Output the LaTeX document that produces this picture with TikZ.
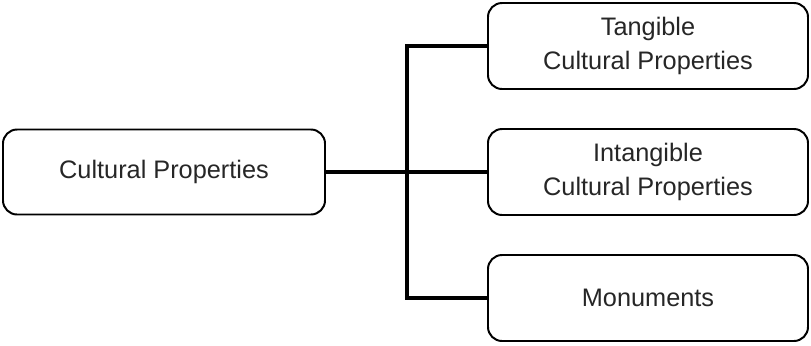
\documentclass[tikz,border=0pt]{standalone}
\usepackage{fontspec}
\setmainfont{Liberation Sans}
\tikzset{
  propbox/.style={draw, line width=1.4pt, rounded corners=10pt, align=center,
    font=\fontsize{18}{24}\selectfont, text=black!85, inner sep=0pt},
  link/.style={line width=2.2pt}
}

\begin{document}
\begin{tikzpicture}[x=0.025cm,y=-0.025cm]
      \useasboundingbox (0,0) rectangle (811,345);
      \node[propbox, minimum width=322*0.025cm, minimum height=85*0.025cm] (cp) at (164,172) {Cultural Properties};
      \node[propbox, minimum width=320*0.025cm, minimum height=86*0.025cm] (tcp) at (648,46) {Tangible\\Cultural Properties};
      \node[propbox, minimum width=320*0.025cm, minimum height=86*0.025cm] (icp) at (648,172) {Intangible\\Cultural Properties};
      \node[propbox, minimum width=320*0.025cm, minimum height=86*0.025cm] (mon) at (648,298) {Monuments};
      \coordinate (j) at (407,172);
      \draw[link] (cp.east) -- (icp.west);
      \draw[link] (tcp.west) -| (j) |- (mon.west);
    \end{tikzpicture}
\end{document}
